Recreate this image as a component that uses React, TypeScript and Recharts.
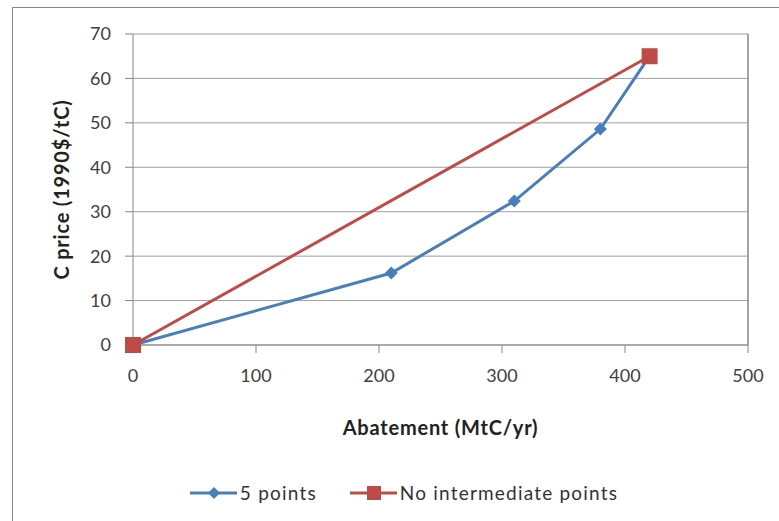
import {
  LineChart,
  Line,
  XAxis,
  YAxis,
  CartesianGrid,
  Legend,
  ReferenceLine,
} from "recharts";

// 5-point curve (abatement MtC/yr, C price 1990$/tC)
const fivePointAbatement = [0, 210, 310, 380, 420];
const fivePointPrice = [0, 16.2, 32.4, 48.6, 65];

// straight line, no intermediate points
const directAbatement = [0, 420];
const directPrice = [0, 65];

const xTicks = [0, 100, 200, 300, 400, 500];
const yTicks = [0, 10, 20, 30, 40, 50, 60, 70];

const BLUE = "#4A7EBB";
const RED = "#BE4B48";
const AXIS = "#868686";
const FONT = "Lato, 'Open Sans', sans-serif";

const fiveData = fivePointAbatement.map((x, i) => ({ x, y: fivePointPrice[i] }));
const directData = directAbatement.map((x, i) => ({ x, y: directPrice[i] }));

const Diamond = (props: any) => {
  const { cx, cy } = props;
  if (cx == null || cy == null) return null;
  const r = 6.5;
  return (
    <path
      d={`M${cx},${cy - r}L${cx + r},${cy}L${cx},${cy + r}L${cx - r},${cy}Z`}
      fill={BLUE}
    />
  );
};

const Square = (props: any) => {
  const { cx, cy } = props;
  if (cx == null || cy == null) return null;
  const s = 8;
  return <rect x={cx - s} y={cy - s} width={s * 2} height={s * 2} fill={RED} />;
};

const legendItems = [
  { label: "5 points", color: BLUE, shape: "diamond" },
  { label: "No intermediate points", color: RED, shape: "square" },
];

function LegendContent() {
  return (
    <div
      style={{
        display: "flex",
        justifyContent: "center",
        gap: 32,
        fontFamily: FONT,
        fontSize: 19,
        letterSpacing: 1.2,
        color: "#333",
        paddingLeft: 59,
      }}
    >
      {legendItems.map((it) => (
        <div key={it.label} style={{ display: "flex", alignItems: "center" }}>
          <svg width={50} height={18}>
            <line x1={1} y1={9} x2={48} y2={9} stroke={it.color} strokeWidth={3} />
            {it.shape === "diamond" ? (
              <path d="M25,3L31,9L25,15L19,9Z" fill={it.color} />
            ) : (
              <rect x={18} y={2} width={14} height={14} fill={it.color} />
            )}
          </svg>
          <span style={{ marginLeft: 1 }}>{it.label}</span>
        </div>
      ))}
    </div>
  );
}

export default function App() {
  return (
    <div
      style={{
        position: "absolute",
        left: 0,
        top: 0,
        width: 779,
        height: 521,
        overflow: "hidden",
        background: "#fff",
      }}
    >
      <div
        style={{
          position: "absolute",
          left: 12,
          top: 7,
          width: 900,
          height: 700,
          border: `1.5px solid ${AXIS}`,
        }}
      />
      <div style={{ position: "absolute", left: 0, top: 0 }}>
        <LineChart
          width={779}
          height={521}
          margin={{ top: 34, right: 31, left: 0, bottom: 0 }}
        >
          <CartesianGrid vertical={false} stroke={AXIS} strokeOpacity={0.8} />
          <XAxis
            type="number"
            dataKey="x"
            domain={[0, 500]}
            ticks={xTicks}
            stroke={AXIS}
            tickSize={8}
            tickMargin={16}
            height={136}
            tick={{ fill: "#404040", fontSize: 18, fontFamily: FONT }}
            label={{
              value: "Abatement (MtC/yr)",
              position: "insideTop",
              offset: 76,
              fill: "#222",
              fontSize: 20,
              fontWeight: 700,
              fontFamily: FONT,
              letterSpacing: 0.8,
            }}
          />
          <YAxis
            type="number"
            domain={[0, 70]}
            ticks={yTicks}
            stroke={AXIS}
            tickSize={8}
            tickMargin={14}
            width={133}
            tick={{ fill: "#404040", fontSize: 18, fontFamily: FONT }}
            label={{
              value: "C price (1990$/tC)",
              angle: -90,
              position: "insideLeft",
              offset: 62,
              fill: "#222",
              fontSize: 20,
              fontWeight: 700,
              fontFamily: FONT,
              letterSpacing: 0.8,
              style: { textAnchor: "middle" },
            }}
          />
          <ReferenceLine x={500} stroke={AXIS} strokeWidth={1.5} />
          <Legend verticalAlign="bottom" height={40} content={<LegendContent />} />
          <Line
            data={fiveData}
            dataKey="y"
            name="5 points"
            stroke={BLUE}
            strokeWidth={3}
            dot={<Diamond />}
            activeDot={false}
            isAnimationActive={false}
          />
          <Line
            data={directData}
            dataKey="y"
            name="No intermediate points"
            stroke={RED}
            strokeWidth={3}
            dot={<Square />}
            activeDot={false}
            isAnimationActive={false}
          />
        </LineChart>
      </div>
    </div>
  );
}
